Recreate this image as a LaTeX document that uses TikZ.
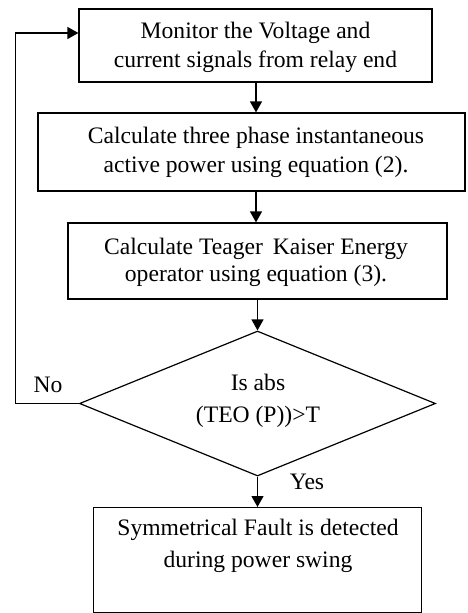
\documentclass[tikz,border=0pt]{standalone}
\usepackage{fontspec}
\setmainfont{Liberation Serif}
\usetikzlibrary{shapes.geometric,arrows.meta,calc}
\begin{document}
\begin{tikzpicture}[x=1pt,y=-1pt,
  box/.style={draw=black, line width=1.2pt, inner sep=0pt},
  txt/.style={align=center, inner sep=0pt, font=\fontsize{23.6}{29.5}\selectfont},
  arr/.style={draw=black, line width=1.2pt, -{Triangle[length=11pt,width=12pt]}},
  line/.style={draw=black, line width=1.2pt}]
\useasboundingbox (0,0) rectangle (467,613);
% boxes
\node[box, minimum width=353pt, minimum height=73pt] (b1) at (255.5,45.5) {};
\node[txt] (t1) at (255.5,47.5) {Monitor the Voltage and\\current signals from relay end};
\node[box, minimum width=427pt, minimum height=78pt] (b2) at (251.5,152) {};
\node[txt] (t2) at (256,152.5) {Calculate three phase instantaneous\\active power using equation (2).};
\node[box, minimum width=379pt, minimum height=76pt] (b3) at (257.5,261) {};
\node[txt, font=\fontsize{23.6}{27.5}\selectfont] (t3) at (256,262.5) {Calculate Teager\, Kaiser Energy\\operator using equation (3).};
\node[draw=black, line width=1.2pt, diamond, inner sep=0pt, minimum width=356pt, minimum height=145pt] (d) at (257.5,403.5) {};
\node[txt, font=\fontsize{23.6}{32}\selectfont] (td) at (258,401) {Is abs\\(TEO (P))>T};
\node[box, minimum width=328pt, minimum height=104.5pt, anchor=north] (b4) at (257.5,507) {};
\node[txt, font=\fontsize{23.6}{32}\selectfont] (t4) at (258,546) {Symmetrical Fault is detected\\during power swing};
% labels
\node[txt] (no) at (48,385) {No};
\node[txt] (yes) at (307,482) {Yes};
% connectors
\draw[arr] (b1.south -| 256,0) -- (b2.north -| 256,0);
\draw[arr] (b2.south -| 256,0) -- (b3.north -| 256,0);
\draw[arr] (b3.south -| d.north) -- (d.north);
\draw[arr] (d.south) -- (b4.north);
\coordinate (fb) at (15.5,33);
\draw[arr] (d.west) -| (fb) -- (fb -| b1.west);
\end{tikzpicture}
\end{document}
